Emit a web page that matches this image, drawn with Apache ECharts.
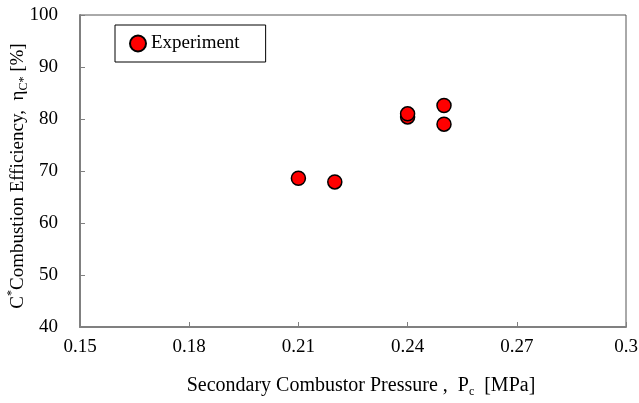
<!DOCTYPE html>
<html>
<head>
<meta charset="utf-8">
<script src="https://cdn.jsdelivr.net/npm/echarts@6/dist/echarts.min.js"></script>
<style>
  html, body { margin: 0; padding: 0; background: #fff; }
  #chart { width: 639px; height: 403px; }
</style>
</head>
<body>
<div id="chart"></div>
<script>
// secondary combustor pressure [MPa] and c* efficiency [%]
const pressure = [0.21, 0.22, 0.24, 0.24, 0.25, 0.25]
const efficiency = [68.6, 67.9, 80.4, 81.0, 82.6, 79.0]
const xTicks = [0.15, 0.18, 0.21, 0.24, 0.27, 0.3]
const yTicks = [40, 50, 60, 70, 80, 90, 100]

const serif = 'Liberation Serif'
const chart = echarts.init(document.getElementById('chart'))

chart.setOption({
  animation: false,
  textStyle: { fontFamily: serif, color: '#000' },
  grid: {
    left: 80,
    right: 13,
    top: 15,
    bottom: 76,
    outerBoundsMode: 'none',
    containLabel: false,
    show: true,
    borderColor: '#555',
    borderWidth: 1,
  },
  legend: {
    left: 115,
    top: 25,
    padding: [9, 26, 9, 14],
    borderColor: '#000',
    borderWidth: 1,
    itemWidth: 16,
    itemHeight: 16,
    itemGap: 4,
    textStyle: { fontFamily: serif, fontSize: 19, color: '#000' },
    data: [{ name: 'Experiment', icon: 'circle' }],
  },
  xAxis: {
    type: 'value',
    min: xTicks[0],
    max: xTicks[xTicks.length - 1],
    interval: 0.03,
    splitLine: { show: false },
    axisLine: { lineStyle: { color: '#808080', width: 2 } },
    axisTick: { inside: true, length: 5, lineStyle: { color: '#808080' } },
    axisLabel: {
      margin: 11,
      fontSize: 19,
      fontFamily: serif,
      color: '#000',
      formatter: v => String(+v.toFixed(2)),
    },
    name: '{n|Secondary Combustor Pressure ,  P}{sub|c}{n|  [MPa]}',
    nameLocation: 'middle',
    nameGap: 47,
    nameMoveOverlap: false,
    nameTextStyle: {
      padding: [0, 0, 0, 16],
      rich: {
        n: { fontFamily: serif, fontSize: 20, color: '#000', lineHeight: 24 },
        sub: { fontFamily: serif, fontSize: 12, color: '#000', verticalAlign: 'bottom', lineHeight: 20 },
      },
    },
  },
  yAxis: {
    type: 'value',
    min: yTicks[0],
    max: yTicks[yTicks.length - 1],
    interval: 10,
    splitLine: { show: false },
    axisLine: { lineStyle: { color: '#808080', width: 2 } },
    axisTick: { inside: true, length: 5, lineStyle: { color: '#808080' } },
    axisLabel: { margin: 22, fontSize: 19, fontFamily: serif, color: '#000' },
    name: '{n|C}{sup|*}{n|Combustion Efficiency,  η}{sub|C*}{n| [%]}',
    nameLocation: 'middle',
    nameRotate: 90,
    nameGap: 50,
    nameMoveOverlap: false,
    nameTextStyle: {
      padding: [0, 10, 0, 0],
      rich: {
        n: { fontFamily: serif, fontSize: 19, color: '#000', lineHeight: 24 },
        sup: { fontFamily: serif, fontSize: 12, color: '#000', verticalAlign: 'top', lineHeight: 20 },
        sub: { fontFamily: serif, fontSize: 12, color: '#000', verticalAlign: 'bottom', lineHeight: 20 },
      },
    },
  },
  series: [{
    name: 'Experiment',
    type: 'scatter',
    symbol: 'circle',
    symbolSize: 14,
    itemStyle: { color: '#ff0000', borderColor: '#000', borderWidth: 1.5, opacity: 1 },
    data: pressure.map((p, i) => [p, efficiency[i]]),
  }],
})
</script>
</body>
</html>
